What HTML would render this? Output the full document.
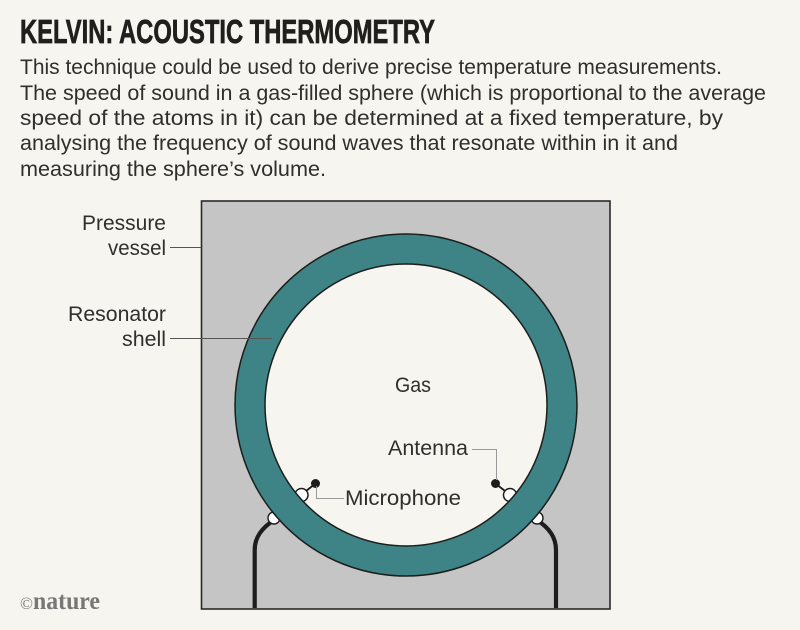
<!DOCTYPE html>
<html>
<head>
<meta charset="utf-8">
<style>
html,body{margin:0;padding:0;background:#f6f5ef;}
svg{display:block;}
text{font-family:"Liberation Sans",sans-serif;fill:#2f2f2d;}
.b{font-size:21.5px;}
.l{font-size:21.5px;}
</style>
</head>
<body>
<svg width="800" height="630" viewBox="0 0 800 630" xmlns="http://www.w3.org/2000/svg">
<rect width="800" height="630" fill="#f6f5ef"/>
<text x="20" y="43" font-size="33" font-weight="700" textLength="415" lengthAdjust="spacingAndGlyphs" style="fill:#1f1f1d;stroke:#1f1f1d;stroke-width:0.7">KELVIN: ACOUSTIC THERMOMETRY</text>
<text class="b" x="20" y="74" textLength="702" lengthAdjust="spacingAndGlyphs">This technique could be used to derive precise temperature measurements.</text>
<text class="b" x="20" y="100" textLength="746" lengthAdjust="spacingAndGlyphs">The speed of sound in a gas-filled sphere (which is proportional to the average</text>
<text class="b" x="20" y="125" textLength="703" lengthAdjust="spacingAndGlyphs">speed of the atoms in it) can be determined at a fixed temperature, by</text>
<text class="b" x="20" y="150" textLength="658" lengthAdjust="spacingAndGlyphs">analysing the frequency of sound waves that resonate within in it and</text>
<text class="b" x="20" y="176" textLength="306" lengthAdjust="spacingAndGlyphs">measuring the sphere’s volume.</text>

<rect x="201.5" y="201" width="408.5" height="408" fill="#c5c5c5" stroke="#2a2a28" stroke-width="1.6"/>

<path d="M254.7 608V550C254.7 537 262 528 274 520" fill="none" stroke="#1d1d1b" stroke-width="4.2"/>
<path d="M556 608V550C556 537 549 528 537 520" fill="none" stroke="#1d1d1b" stroke-width="4.2"/>
<circle cx="274" cy="518" r="6" fill="#fff" stroke="#1d1d1b" stroke-width="1.4"/>
<circle cx="537" cy="518" r="6" fill="#fff" stroke="#1d1d1b" stroke-width="1.4"/>

<circle cx="406" cy="405" r="141" fill="#f6f5ef"/>

<path d="M301 495L315.5 483.5M510 495L495.5 483.5" stroke="#1d1d1b" stroke-width="1.8"/>
<circle cx="301.5" cy="495" r="6.5" fill="#fff" stroke="#1d1d1b" stroke-width="1.5"/>
<circle cx="510" cy="495" r="6.5" fill="#fff" stroke="#1d1d1b" stroke-width="1.5"/>
<circle cx="315.5" cy="483.5" r="4.5" fill="#1d1d1b"/>
<circle cx="495.5" cy="483.5" r="4.5" fill="#1d1d1b"/>

<circle cx="406" cy="405" r="156" fill="none" stroke="#3e8386" stroke-width="30"/>
<circle cx="406" cy="405" r="171" fill="none" stroke="#1d1d1b" stroke-width="1.5"/>
<circle cx="406" cy="405" r="141" fill="none" stroke="#1d1d1b" stroke-width="1.5"/>

<path d="M170 247.5H201M170 338.5H272" stroke="#555" stroke-width="1" fill="none"/>
<path d="M472 449.5H496.5V480M344 498.5H316.5V486" stroke="#999" stroke-width="1" fill="none"/>

<text class="l" x="166" y="230" text-anchor="end" textLength="84" lengthAdjust="spacingAndGlyphs">Pressure</text>
<text class="l" x="166" y="255" text-anchor="end" textLength="58" lengthAdjust="spacingAndGlyphs">vessel</text>
<text class="l" x="166" y="321" text-anchor="end" textLength="98" lengthAdjust="spacingAndGlyphs">Resonator</text>
<text class="l" x="166" y="346" text-anchor="end" textLength="44" lengthAdjust="spacingAndGlyphs">shell</text>
<text class="l" x="395" y="392" textLength="36" lengthAdjust="spacingAndGlyphs">Gas</text>
<text class="l" x="388" y="455" textLength="80" lengthAdjust="spacingAndGlyphs">Antenna</text>
<text class="l" x="345" y="505" textLength="116" lengthAdjust="spacingAndGlyphs">Microphone</text>

<text x="20" y="609" font-size="17" style="fill:#777;font-family:'Liberation Serif',serif">©</text>
<text x="33" y="609" font-size="25" font-weight="700" textLength="67" lengthAdjust="spacingAndGlyphs" style="font-family:'Liberation Serif',serif;fill:#777">nature</text>
</svg>
</body>
</html>
